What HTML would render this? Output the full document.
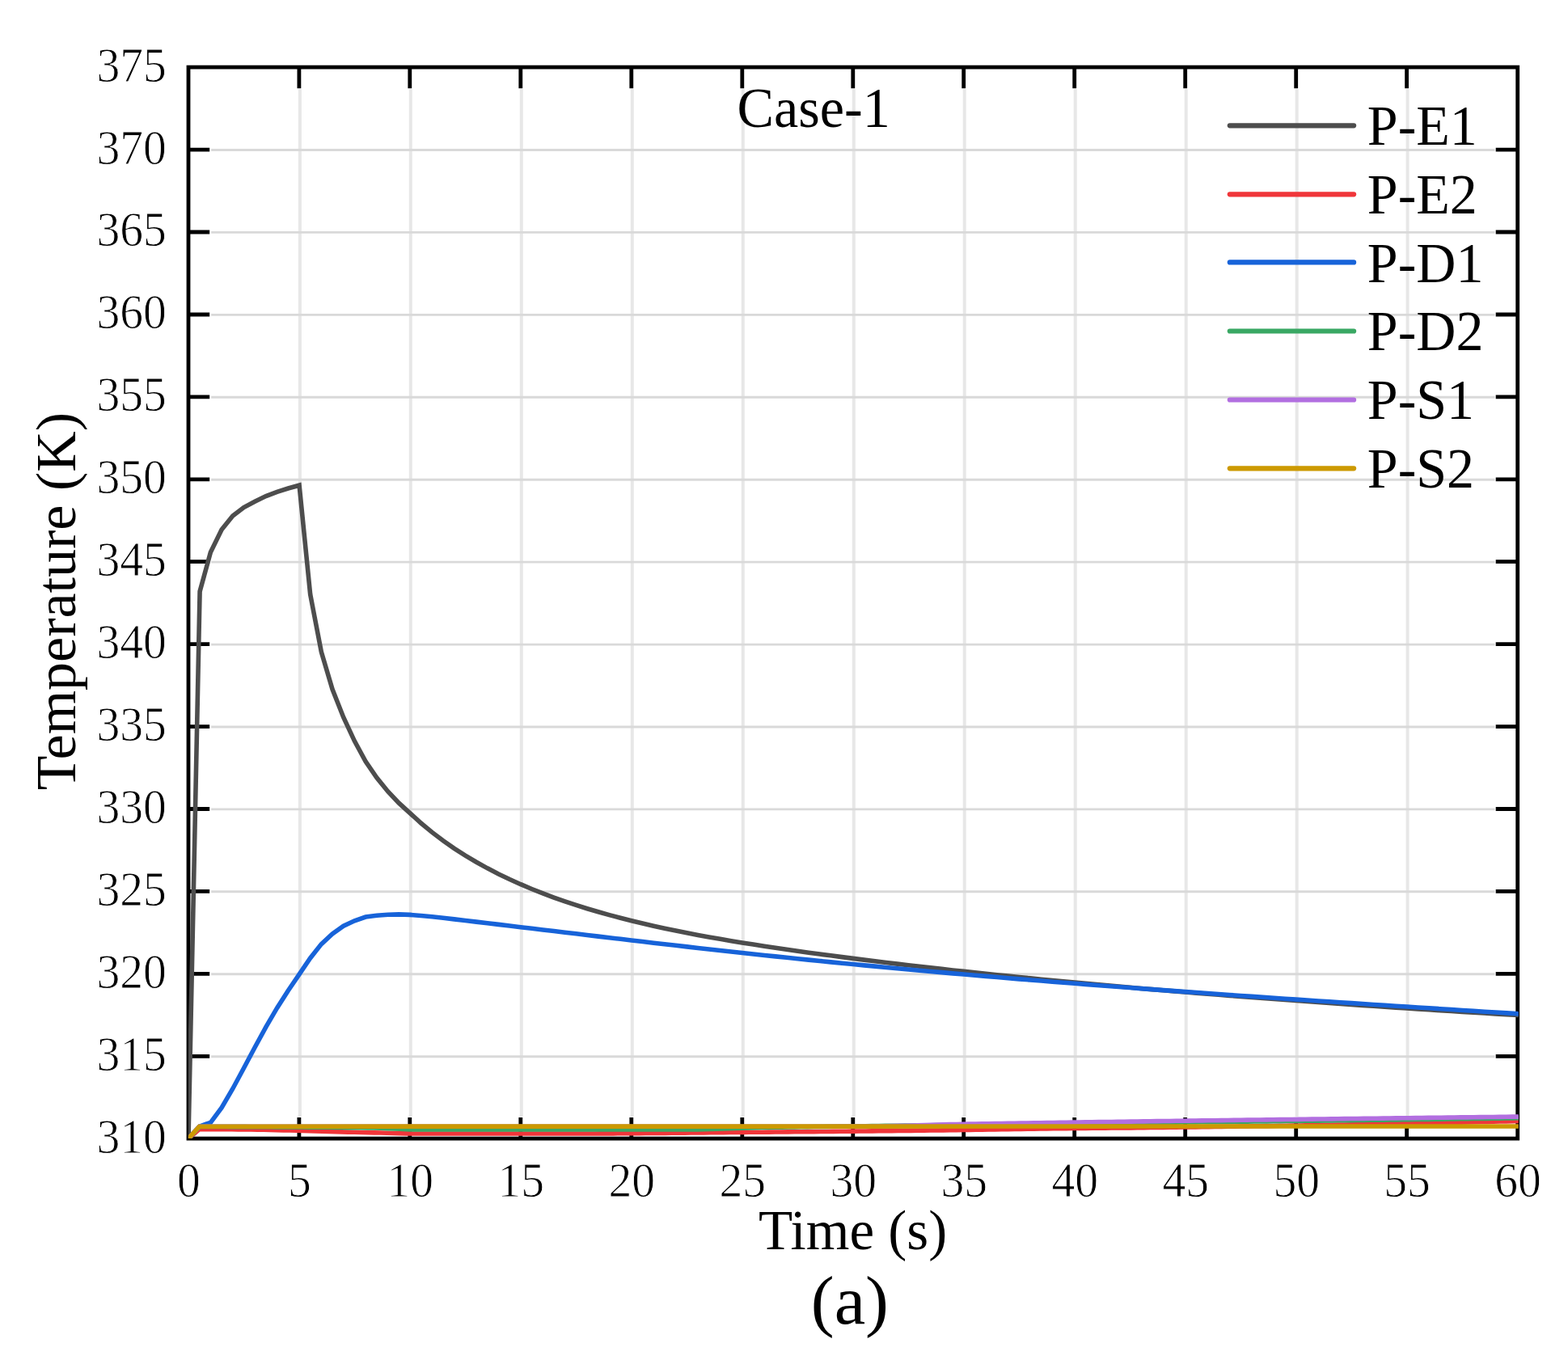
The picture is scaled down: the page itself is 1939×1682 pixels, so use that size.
<!DOCTYPE html>
<html lang="en">
<head>
<meta charset="utf-8">
<title>Temperature vs Time - Case-1</title>
<style>
html,body{margin:0;padding:0;background:#fff;}
body{width:1939px;height:1682px;overflow:hidden;font-family:"Liberation Serif", serif;}
svg{display:block;}
</style>
</head>
<body>
<svg width="1939" height="1682" viewBox="0 0 1939 1682">
<rect width="1939" height="1682" fill="#ffffff"/>
<defs><clipPath id="plotclip"><rect x="232.9" y="80.7" width="1644.9" height="1327.4"/></clipPath></defs>
<g fill="none">
<path d="M370.9,110.3 V1380.9" stroke="#e7e7e7" stroke-width="4.0"/>
<path d="M507.8,110.3 V1380.9" stroke="#e7e7e7" stroke-width="4.0"/>
<path d="M644.8,110.3 V1380.9" stroke="#e7e7e7" stroke-width="4.0"/>
<path d="M781.8,110.3 V1380.9" stroke="#e7e7e7" stroke-width="4.0"/>
<path d="M918.8,110.3 V1380.9" stroke="#e7e7e7" stroke-width="4.0"/>
<path d="M1055.8,110.3 V1380.9" stroke="#e7e7e7" stroke-width="4.0"/>
<path d="M1192.7,110.3 V1380.9" stroke="#e7e7e7" stroke-width="4.0"/>
<path d="M1329.7,110.3 V1380.9" stroke="#e7e7e7" stroke-width="4.0"/>
<path d="M1466.7,110.3 V1380.9" stroke="#e7e7e7" stroke-width="4.0"/>
<path d="M1603.7,110.3 V1380.9" stroke="#e7e7e7" stroke-width="4.0"/>
<path d="M1740.6,110.3 V1380.9" stroke="#e7e7e7" stroke-width="4.0"/>
<path d="M261.2,1306.7 H1848.5" stroke="#d9d9d9" stroke-width="2.9"/>
<path d="M261.2,1204.8 H1848.5" stroke="#d9d9d9" stroke-width="2.9"/>
<path d="M261.2,1102.8 H1848.5" stroke="#d9d9d9" stroke-width="2.9"/>
<path d="M261.2,1000.9 H1848.5" stroke="#d9d9d9" stroke-width="2.9"/>
<path d="M261.2,899.0 H1848.5" stroke="#d9d9d9" stroke-width="2.9"/>
<path d="M261.2,797.1 H1848.5" stroke="#d9d9d9" stroke-width="2.9"/>
<path d="M261.2,695.1 H1848.5" stroke="#d9d9d9" stroke-width="2.9"/>
<path d="M261.2,593.2 H1848.5" stroke="#d9d9d9" stroke-width="2.9"/>
<path d="M261.2,491.3 H1848.5" stroke="#d9d9d9" stroke-width="2.9"/>
<path d="M261.2,389.4 H1848.5" stroke="#d9d9d9" stroke-width="2.9"/>
<path d="M261.2,287.4 H1848.5" stroke="#d9d9d9" stroke-width="2.9"/>
<path d="M261.2,185.5 H1848.5" stroke="#d9d9d9" stroke-width="2.9"/>
</g>
<g stroke="#000" stroke-width="4.8" fill="none" stroke-linecap="butt">
<rect x="233.0" y="83.1" width="1643.7" height="1325.0"/>
<path d="M369.9,83.1 V109.3 M369.9,1408.1 V1381.9"/>
<path d="M506.8,83.1 V109.3 M506.8,1408.1 V1381.9"/>
<path d="M643.8,83.1 V109.3 M643.8,1408.1 V1381.9"/>
<path d="M780.8,83.1 V109.3 M780.8,1408.1 V1381.9"/>
<path d="M917.8,83.1 V109.3 M917.8,1408.1 V1381.9"/>
<path d="M1054.8,83.1 V109.3 M1054.8,1408.1 V1381.9"/>
<path d="M1191.7,83.1 V109.3 M1191.7,1408.1 V1381.9"/>
<path d="M1328.7,83.1 V109.3 M1328.7,1408.1 V1381.9"/>
<path d="M1465.7,83.1 V109.3 M1465.7,1408.1 V1381.9"/>
<path d="M1602.7,83.1 V109.3 M1602.7,1408.1 V1381.9"/>
<path d="M1739.6,83.1 V109.3 M1739.6,1408.1 V1381.9"/>
<path d="M233.0,1306.3 H259.2 M1876.7,1306.3 H1849.7"/>
<path d="M233.0,1204.4 H259.2 M1876.7,1204.4 H1849.7"/>
<path d="M233.0,1102.4 H259.2 M1876.7,1102.4 H1849.7"/>
<path d="M233.0,1000.5 H259.2 M1876.7,1000.5 H1849.7"/>
<path d="M233.0,898.6 H259.2 M1876.7,898.6 H1849.7"/>
<path d="M233.0,796.7 H259.2 M1876.7,796.7 H1849.7"/>
<path d="M233.0,694.7 H259.2 M1876.7,694.7 H1849.7"/>
<path d="M233.0,592.8 H259.2 M1876.7,592.8 H1849.7"/>
<path d="M233.0,490.9 H259.2 M1876.7,490.9 H1849.7"/>
<path d="M233.0,389.0 H259.2 M1876.7,389.0 H1849.7"/>
<path d="M233.0,287.0 H259.2 M1876.7,287.0 H1849.7"/>
<path d="M233.0,185.1 H259.2 M1876.7,185.1 H1849.7"/>
</g>
<g fill="none" stroke-width="5.6" stroke-linejoin="miter" stroke-miterlimit="3" stroke-linecap="square" clip-path="url(#plotclip)">
<path d="M233.00,1408.10 L247.10,731.50 L260.40,683.00 L274.10,655.10 L287.80,638.00 L301.50,627.50 L315.20,620.30 L328.90,613.60 L342.60,608.30 L356.30,604.00 L370.10,600.20 L383.67,735.14 L397.37,806.36 L411.07,852.48 L424.76,887.23 L438.46,916.56 L452.16,941.73 L465.86,961.83 L479.56,978.75 L493.25,993.13 L506.95,1005.57 L520.65,1018.03 L534.35,1029.37 L548.04,1039.75 L561.74,1049.30 L575.44,1058.11 L589.13,1066.27 L602.83,1073.85 L616.53,1080.91 L630.23,1087.51 L643.92,1093.68 L657.62,1099.47 L671.32,1104.92 L685.02,1110.04 L698.72,1114.86 L712.41,1119.42 L726.11,1123.73 L739.81,1127.80 L753.50,1131.66 L767.20,1135.32 L780.90,1138.79 L794.60,1142.08 L808.30,1145.21 L821.99,1148.20 L835.69,1151.05 L849.39,1153.77 L863.08,1156.39 L876.78,1158.90 L890.48,1161.32 L904.18,1163.65 L917.88,1165.91 L931.57,1168.10 L945.27,1170.22 L958.97,1172.28 L972.67,1174.28 L986.36,1176.24 L1000.06,1178.15 L1013.76,1180.02 L1027.45,1181.84 L1041.15,1183.63 L1054.85,1185.39 L1068.55,1187.11 L1082.25,1188.81 L1095.94,1190.48 L1109.64,1192.11 L1123.34,1193.72 L1137.03,1195.31 L1150.73,1196.86 L1164.43,1198.40 L1178.13,1199.91 L1191.83,1201.39 L1205.52,1202.85 L1219.22,1204.29 L1232.92,1205.71 L1246.62,1207.11 L1260.31,1208.49 L1274.01,1209.84 L1287.71,1211.18 L1301.40,1212.50 L1315.10,1213.80 L1328.80,1215.08 L1342.50,1216.35 L1356.19,1217.60 L1369.89,1218.83 L1383.59,1220.04 L1397.29,1221.24 L1410.99,1222.43 L1424.68,1223.60 L1438.38,1224.75 L1452.08,1225.89 L1465.78,1227.01 L1479.47,1228.13 L1493.17,1229.22 L1506.87,1230.31 L1520.57,1231.38 L1534.26,1232.44 L1547.96,1233.49 L1561.66,1234.52 L1575.36,1235.55 L1589.05,1236.56 L1602.75,1237.56 L1616.45,1238.55 L1630.14,1239.53 L1643.84,1240.50 L1657.54,1241.45 L1671.24,1242.40 L1684.94,1243.34 L1698.63,1244.26 L1712.33,1245.18 L1726.03,1246.09 L1739.72,1246.99 L1753.42,1247.88 L1767.12,1248.76 L1780.82,1249.63 L1794.52,1250.49 L1808.21,1251.35 L1821.91,1252.19 L1835.61,1253.03 L1849.31,1253.86 L1863.00,1254.68 L1876.70,1255.49" stroke="#4d4d4d"/>
<path d="M233.00,1408.10 L246.50,1396.60 L254.50,1396.61 L262.50,1396.64 L270.50,1396.68 L278.50,1396.72 L286.50,1396.78 L294.50,1396.83 L302.50,1396.92 L310.50,1397.02 L318.50,1397.15 L326.50,1397.30 L334.50,1397.46 L342.50,1397.64 L350.50,1397.83 L358.50,1398.04 L366.50,1398.25 L374.50,1398.48 L382.50,1398.70 L390.50,1398.94 L398.50,1399.17 L406.50,1399.40 L414.50,1399.63 L422.50,1399.86 L430.50,1400.08 L438.50,1400.29 L446.50,1400.49 L454.50,1400.68 L462.50,1400.86 L470.50,1401.05 L478.50,1401.26 L486.50,1401.47 L494.50,1401.67 L502.50,1401.83 L510.50,1401.95 L518.50,1402.00 L526.50,1402.00 L534.50,1402.00 L542.50,1402.00 L550.50,1402.00 L558.50,1402.00 L566.50,1402.00 L574.50,1402.00 L582.50,1402.00 L590.50,1402.00 L598.50,1402.00 L606.50,1402.00 L614.50,1402.00 L622.50,1402.00 L630.50,1402.00 L638.50,1402.00 L646.50,1402.00 L654.50,1402.00 L662.50,1402.00 L670.50,1402.00 L678.50,1402.00 L686.50,1402.00 L694.50,1402.00 L702.50,1402.00 L710.50,1401.99 L718.50,1401.98 L726.50,1401.96 L734.50,1401.94 L742.50,1401.90 L750.50,1401.87 L758.50,1401.83 L766.50,1401.78 L774.50,1401.73 L782.50,1401.67 L790.50,1401.61 L798.50,1401.55 L806.50,1401.48 L814.50,1401.41 L822.50,1401.34 L830.50,1401.26 L838.50,1401.19 L846.50,1401.11 L854.50,1401.03 L862.50,1400.95 L870.50,1400.87 L878.50,1400.79 L886.50,1400.71 L894.50,1400.63 L902.50,1400.55 L910.50,1400.47 L918.50,1400.40 L926.50,1400.32 L934.50,1400.25 L942.50,1400.18 L950.50,1400.11 L958.50,1400.04 L966.50,1399.97 L974.50,1399.89 L982.50,1399.82 L990.50,1399.75 L998.50,1399.67 L1006.50,1399.60 L1014.50,1399.52 L1022.50,1399.45 L1030.50,1399.37 L1038.50,1399.29 L1046.50,1399.21 L1054.50,1399.13 L1062.50,1399.05 L1070.50,1398.97 L1078.50,1398.88 L1086.50,1398.80 L1094.50,1398.71 L1102.50,1398.62 L1110.50,1398.53 L1118.50,1398.44 L1126.50,1398.35 L1134.50,1398.26 L1142.50,1398.16 L1150.50,1398.07 L1158.50,1397.97 L1166.50,1397.87 L1174.50,1397.77 L1182.50,1397.67 L1190.50,1397.56 L1198.50,1397.44 L1206.50,1397.31 L1214.50,1397.18 L1222.50,1397.05 L1230.50,1396.91 L1238.50,1396.77 L1246.50,1396.63 L1254.50,1396.49 L1262.50,1396.35 L1270.50,1396.22 L1278.50,1396.10 L1286.50,1395.98 L1294.50,1395.87 L1302.50,1395.77 L1310.50,1395.68 L1318.50,1395.59 L1326.50,1395.51 L1334.50,1395.43 L1342.50,1395.36 L1350.50,1395.28 L1358.50,1395.21 L1366.50,1395.14 L1374.50,1395.07 L1382.50,1394.99 L1390.50,1394.92 L1398.50,1394.84 L1406.50,1394.75 L1414.50,1394.67 L1422.50,1394.57 L1430.50,1394.47 L1438.50,1394.37 L1446.50,1394.27 L1454.50,1394.17 L1462.50,1394.06 L1470.50,1393.96 L1478.50,1393.85 L1486.50,1393.74 L1494.50,1393.63 L1502.50,1393.52 L1510.50,1393.41 L1518.50,1393.29 L1526.50,1393.18 L1534.50,1393.06 L1542.50,1392.94 L1550.50,1392.82 L1558.50,1392.70 L1566.50,1392.58 L1574.50,1392.45 L1582.50,1392.32 L1590.50,1392.20 L1598.50,1392.07 L1606.50,1391.93 L1614.50,1391.80 L1622.50,1391.67 L1630.50,1391.53 L1638.50,1391.39 L1646.50,1391.25 L1654.50,1391.11 L1662.50,1390.97 L1670.50,1390.82 L1678.50,1390.68 L1686.50,1390.53 L1694.50,1390.38 L1702.50,1390.23 L1710.50,1390.08 L1718.50,1389.92 L1726.50,1389.76 L1734.50,1389.61 L1742.50,1389.45 L1750.50,1389.28 L1758.50,1389.12 L1766.50,1388.96 L1774.50,1388.79 L1782.50,1388.62 L1790.50,1388.45 L1798.50,1388.28 L1806.50,1388.10 L1814.50,1387.93 L1822.50,1387.75 L1830.50,1387.57 L1838.50,1387.39 L1846.50,1387.21 L1854.50,1387.02 L1862.50,1386.84 L1870.50,1386.65 L1876.70,1386.50" stroke="#f0363a"/>
<path d="M233.00,1408.10 L246.70,1393.10 L260.39,1388.30 L274.09,1369.90 L287.79,1346.50 L301.49,1321.00 L315.19,1295.20 L328.88,1270.20 L342.58,1246.70 L356.28,1225.20 L369.98,1205.20 L383.67,1185.00 L397.37,1167.60 L411.07,1154.90 L424.76,1145.30 L438.46,1138.80 L452.16,1134.10 L465.86,1132.20 L479.56,1131.20 L493.25,1130.90 L506.95,1131.40 L520.65,1132.49 L534.35,1133.80 L548.04,1135.29 L561.74,1136.88 L575.44,1138.50 L589.13,1140.13 L602.83,1141.76 L616.53,1143.39 L630.23,1145.03 L643.92,1146.66 L657.62,1148.30 L671.32,1149.93 L685.02,1151.57 L698.72,1153.21 L712.41,1154.84 L726.11,1156.47 L739.81,1158.10 L753.50,1159.72 L767.20,1161.34 L780.90,1162.95 L794.60,1164.56 L808.30,1166.16 L821.99,1167.74 L835.69,1169.32 L849.39,1170.89 L863.08,1172.44 L876.78,1173.98 L890.48,1175.50 L904.18,1177.01 L917.88,1178.51 L931.57,1179.99 L945.27,1181.44 L958.97,1182.89 L972.67,1184.31 L986.36,1185.72 L1000.06,1187.12 L1013.76,1188.49 L1027.45,1189.86 L1041.15,1191.20 L1054.85,1192.53 L1068.55,1193.85 L1082.25,1195.15 L1095.94,1196.44 L1109.64,1197.71 L1123.34,1198.97 L1137.03,1200.21 L1150.73,1201.44 L1164.43,1202.66 L1178.13,1203.87 L1191.83,1205.06 L1205.52,1206.24 L1219.22,1207.41 L1232.92,1208.56 L1246.62,1209.71 L1260.31,1210.84 L1274.01,1211.96 L1287.71,1213.07 L1301.40,1214.17 L1315.10,1215.26 L1328.80,1216.33 L1342.50,1217.40 L1356.19,1218.46 L1369.89,1219.51 L1383.59,1220.55 L1397.29,1221.58 L1410.99,1222.60 L1424.68,1223.61 L1438.38,1224.62 L1452.08,1225.61 L1465.78,1226.60 L1479.47,1227.58 L1493.17,1228.55 L1506.87,1229.52 L1520.57,1230.48 L1534.26,1231.43 L1547.96,1232.37 L1561.66,1233.31 L1575.36,1234.25 L1589.05,1235.18 L1602.75,1236.10 L1616.45,1237.02 L1630.14,1237.93 L1643.84,1238.83 L1657.54,1239.74 L1671.24,1240.64 L1684.94,1241.53 L1698.63,1242.42 L1712.33,1243.31 L1726.03,1244.19 L1739.72,1245.07 L1753.42,1245.95 L1767.12,1246.83 L1780.82,1247.70 L1794.52,1248.57 L1808.21,1249.44 L1821.91,1250.31 L1835.61,1251.18 L1849.31,1252.04 L1863.00,1252.91 L1876.70,1253.77" stroke="#1763d9"/>
<path d="M233.00,1408.10 L246.50,1393.50 L254.50,1393.51 L262.50,1393.52 L270.50,1393.54 L278.50,1393.56 L286.50,1393.58 L294.50,1393.61 L302.50,1393.64 L310.50,1393.68 L318.50,1393.71 L326.50,1393.75 L334.50,1393.79 L342.50,1393.83 L350.50,1393.87 L358.50,1393.92 L366.50,1393.97 L374.50,1394.03 L382.50,1394.09 L390.50,1394.15 L398.50,1394.23 L406.50,1394.30 L414.50,1394.39 L422.50,1394.48 L430.50,1394.58 L438.50,1394.68 L446.50,1394.79 L454.50,1394.91 L462.50,1395.05 L470.50,1395.28 L478.50,1395.60 L486.50,1395.96 L494.50,1396.32 L502.50,1396.65 L510.50,1396.89 L518.50,1397.00 L526.50,1397.00 L534.50,1397.00 L542.50,1397.00 L550.50,1397.00 L558.50,1397.00 L566.50,1397.00 L574.50,1397.00 L582.50,1397.00 L590.50,1397.00 L598.50,1397.00 L606.50,1397.00 L614.50,1397.00 L622.50,1397.00 L630.50,1397.00 L638.50,1397.00 L646.50,1397.00 L654.50,1397.00 L662.50,1397.00 L670.50,1397.00 L678.50,1397.00 L686.50,1397.00 L694.50,1397.00 L702.50,1397.00 L710.50,1397.00 L718.50,1397.00 L726.50,1397.00 L734.50,1397.00 L742.50,1397.00 L750.50,1397.00 L758.50,1397.00 L766.50,1397.00 L774.50,1397.00 L782.50,1397.00 L790.50,1397.00 L798.50,1397.00 L806.50,1397.00 L814.50,1397.00 L822.50,1397.00 L830.50,1397.00 L838.50,1397.00 L846.50,1397.00 L854.50,1396.99 L862.50,1396.90 L870.50,1396.75 L878.50,1396.55 L886.50,1396.30 L894.50,1396.03 L902.50,1395.75 L910.50,1395.46 L918.50,1395.18 L926.50,1394.93 L934.50,1394.72 L942.50,1394.55 L950.50,1394.41 L958.50,1394.27 L966.50,1394.14 L974.50,1394.02 L982.50,1393.90 L990.50,1393.79 L998.50,1393.68 L1006.50,1393.57 L1014.50,1393.46 L1022.50,1393.36 L1030.50,1393.26 L1038.50,1393.15 L1046.50,1393.05 L1054.50,1392.94 L1062.50,1392.83 L1070.50,1392.73 L1078.50,1392.62 L1086.50,1392.52 L1094.50,1392.41 L1102.50,1392.31 L1110.50,1392.20 L1118.50,1392.10 L1126.50,1392.00 L1134.50,1391.90 L1142.50,1391.80 L1150.50,1391.70 L1158.50,1391.60 L1166.50,1391.50 L1174.50,1391.40 L1182.50,1391.30 L1190.50,1391.21 L1198.50,1391.11 L1206.50,1391.01 L1214.50,1390.92 L1222.50,1390.82 L1230.50,1390.72 L1238.50,1390.63 L1246.50,1390.53 L1254.50,1390.44 L1262.50,1390.35 L1270.50,1390.25 L1278.50,1390.16 L1286.50,1390.06 L1294.50,1389.97 L1302.50,1389.88 L1310.50,1389.79 L1318.50,1389.69 L1326.50,1389.60 L1334.50,1389.51 L1342.50,1389.42 L1350.50,1389.33 L1358.50,1389.23 L1366.50,1389.14 L1374.50,1389.05 L1382.50,1388.96 L1390.50,1388.87 L1398.50,1388.78 L1406.50,1388.69 L1414.50,1388.60 L1422.50,1388.50 L1430.50,1388.41 L1438.50,1388.32 L1446.50,1388.23 L1454.50,1388.14 L1462.50,1388.05 L1470.50,1387.96 L1478.50,1387.87 L1486.50,1387.77 L1494.50,1387.68 L1502.50,1387.59 L1510.50,1387.50 L1518.50,1387.40 L1526.50,1387.31 L1534.50,1387.22 L1542.50,1387.13 L1550.50,1387.03 L1558.50,1386.94 L1566.50,1386.84 L1574.50,1386.75 L1582.50,1386.66 L1590.50,1386.56 L1598.50,1386.47 L1606.50,1386.37 L1614.50,1386.27 L1622.50,1386.18 L1630.50,1386.08 L1638.50,1385.98 L1646.50,1385.88 L1654.50,1385.79 L1662.50,1385.69 L1670.50,1385.59 L1678.50,1385.49 L1686.50,1385.39 L1694.50,1385.29 L1702.50,1385.18 L1710.50,1385.08 L1718.50,1384.98 L1726.50,1384.88 L1734.50,1384.77 L1742.50,1384.67 L1750.50,1384.56 L1758.50,1384.45 L1766.50,1384.35 L1774.50,1384.24 L1782.50,1384.13 L1790.50,1384.02 L1798.50,1383.91 L1806.50,1383.79 L1814.50,1383.68 L1822.50,1383.57 L1830.50,1383.46 L1838.50,1383.34 L1846.50,1383.23 L1854.50,1383.12 L1862.50,1383.00 L1870.50,1382.89 L1876.70,1382.80" stroke="#3aa864"/>
<path d="M233.00,1408.10 L246.50,1393.20 L254.50,1393.20 L262.50,1393.20 L270.50,1393.20 L278.50,1393.20 L286.50,1393.20 L294.50,1393.20 L302.50,1393.20 L310.50,1393.20 L318.50,1393.20 L326.50,1393.20 L334.50,1393.20 L342.50,1393.20 L350.50,1393.20 L358.50,1393.20 L366.50,1393.20 L374.50,1393.20 L382.50,1393.20 L390.50,1393.20 L398.50,1393.20 L406.50,1393.20 L414.50,1393.20 L422.50,1393.20 L430.50,1393.20 L438.50,1393.20 L446.50,1393.20 L454.50,1393.20 L462.50,1393.20 L470.50,1393.20 L478.50,1393.20 L486.50,1393.20 L494.50,1393.20 L502.50,1393.20 L510.50,1393.20 L518.50,1393.20 L526.50,1393.20 L534.50,1393.20 L542.50,1393.20 L550.50,1393.20 L558.50,1393.20 L566.50,1393.20 L574.50,1393.20 L582.50,1393.20 L590.50,1393.20 L598.50,1393.20 L606.50,1393.20 L614.50,1393.20 L622.50,1393.20 L630.50,1393.20 L638.50,1393.20 L646.50,1393.20 L654.50,1393.20 L662.50,1393.20 L670.50,1393.20 L678.50,1393.20 L686.50,1393.20 L694.50,1393.20 L702.50,1393.20 L710.50,1393.20 L718.50,1393.20 L726.50,1393.20 L734.50,1393.20 L742.50,1393.20 L750.50,1393.20 L758.50,1393.20 L766.50,1393.20 L774.50,1393.20 L782.50,1393.20 L790.50,1393.20 L798.50,1393.20 L806.50,1393.20 L814.50,1393.20 L822.50,1393.20 L830.50,1393.20 L838.50,1393.20 L846.50,1393.20 L854.50,1393.20 L862.50,1393.20 L870.50,1393.20 L878.50,1393.20 L886.50,1393.20 L894.50,1393.20 L902.50,1393.20 L910.50,1393.20 L918.50,1393.20 L926.50,1393.20 L934.50,1393.20 L942.50,1393.20 L950.50,1393.20 L958.50,1393.20 L966.50,1393.20 L974.50,1393.20 L982.50,1393.20 L990.50,1393.20 L998.50,1393.20 L1006.50,1393.20 L1014.50,1393.19 L1022.50,1393.18 L1030.50,1393.16 L1038.50,1393.14 L1046.50,1393.12 L1054.50,1393.09 L1062.50,1393.05 L1070.50,1393.02 L1078.50,1392.98 L1086.50,1392.90 L1094.50,1392.77 L1102.50,1392.61 L1110.50,1392.42 L1118.50,1392.20 L1126.50,1391.97 L1134.50,1391.73 L1142.50,1391.49 L1150.50,1391.25 L1158.50,1391.02 L1166.50,1390.80 L1174.50,1390.61 L1182.50,1390.45 L1190.50,1390.30 L1198.50,1390.15 L1206.50,1390.01 L1214.50,1389.87 L1222.50,1389.73 L1230.50,1389.59 L1238.50,1389.46 L1246.50,1389.32 L1254.50,1389.19 L1262.50,1389.07 L1270.50,1388.94 L1278.50,1388.82 L1286.50,1388.70 L1294.50,1388.58 L1302.50,1388.46 L1310.50,1388.34 L1318.50,1388.22 L1326.50,1388.11 L1334.50,1387.99 L1342.50,1387.88 L1350.50,1387.77 L1358.50,1387.66 L1366.50,1387.55 L1374.50,1387.43 L1382.50,1387.32 L1390.50,1387.21 L1398.50,1387.10 L1406.50,1386.99 L1414.50,1386.88 L1422.50,1386.76 L1430.50,1386.65 L1438.50,1386.54 L1446.50,1386.43 L1454.50,1386.32 L1462.50,1386.22 L1470.50,1386.11 L1478.50,1386.00 L1486.50,1385.89 L1494.50,1385.79 L1502.50,1385.68 L1510.50,1385.58 L1518.50,1385.48 L1526.50,1385.37 L1534.50,1385.27 L1542.50,1385.17 L1550.50,1385.07 L1558.50,1384.97 L1566.50,1384.87 L1574.50,1384.76 L1582.50,1384.66 L1590.50,1384.56 L1598.50,1384.46 L1606.50,1384.36 L1614.50,1384.27 L1622.50,1384.17 L1630.50,1384.07 L1638.50,1383.97 L1646.50,1383.87 L1654.50,1383.77 L1662.50,1383.67 L1670.50,1383.57 L1678.50,1383.47 L1686.50,1383.37 L1694.50,1383.27 L1702.50,1383.18 L1710.50,1383.08 L1718.50,1382.98 L1726.50,1382.88 L1734.50,1382.78 L1742.50,1382.69 L1750.50,1382.59 L1758.50,1382.49 L1766.50,1382.40 L1774.50,1382.30 L1782.50,1382.21 L1790.50,1382.11 L1798.50,1382.02 L1806.50,1381.92 L1814.50,1381.83 L1822.50,1381.73 L1830.50,1381.64 L1838.50,1381.54 L1846.50,1381.45 L1854.50,1381.36 L1862.50,1381.26 L1870.50,1381.17 L1876.70,1381.10" stroke="#b26fe0"/>
<path d="M233.00,1408.10 L246.50,1393.20 L1876.70,1393.00" stroke="#cc9900"/>
</g>
<g stroke-width="6.2" stroke-linecap="round" fill="none">
<path d="M1520.8,155.3 H1674.1" stroke="#4d4d4d"/>
<path d="M1520.8,240.3 H1674.1" stroke="#f0363a"/>
<path d="M1520.8,324.4 H1674.1" stroke="#1763d9"/>
<path d="M1520.8,409.5 H1674.1" stroke="#3aa864"/>
<path d="M1520.8,494.5 H1674.1" stroke="#b26fe0"/>
<path d="M1520.8,579.3 H1674.1" stroke="#cc9900"/>
</g>
<g font-family='"Liberation Serif", serif' fill="#000">
<text transform="translate(1690.8,179.0) scale(0.972,1)" font-size="70" text-anchor="start">P-E1</text>
<text transform="translate(1690.8,263.6) scale(0.972,1)" font-size="70" text-anchor="start">P-E2</text>
<text transform="translate(1690.8,348.6) scale(0.972,1)" font-size="70" text-anchor="start">P-D1</text>
<text transform="translate(1690.8,433.2) scale(0.972,1)" font-size="70" text-anchor="start">P-D2</text>
<text transform="translate(1690.8,518.4) scale(0.972,1)" font-size="70" text-anchor="start">P-S1</text>
<text transform="translate(1690.8,603.0) scale(0.972,1)" font-size="70" text-anchor="start">P-S2</text>
<text transform="translate(1006.2,157.2) scale(0.968,1)" font-size="70.5" text-anchor="middle">Case-1</text>
<g stroke="#ffffff" stroke-width="0.9" stroke-linejoin="round">
<text transform="translate(233.4,1479.6) scale(0.952,1)" font-size="60.5" text-anchor="middle">0</text>
<text transform="translate(370.4,1479.6) scale(0.952,1)" font-size="60.5" text-anchor="middle">5</text>
<text transform="translate(507.3,1479.6) scale(0.952,1)" font-size="60.5" text-anchor="middle">10</text>
<text transform="translate(644.3,1479.6) scale(0.952,1)" font-size="60.5" text-anchor="middle">15</text>
<text transform="translate(781.3,1479.6) scale(0.952,1)" font-size="60.5" text-anchor="middle">20</text>
<text transform="translate(918.3,1479.6) scale(0.952,1)" font-size="60.5" text-anchor="middle">25</text>
<text transform="translate(1055.2,1479.6) scale(0.952,1)" font-size="60.5" text-anchor="middle">30</text>
<text transform="translate(1192.2,1479.6) scale(0.952,1)" font-size="60.5" text-anchor="middle">35</text>
<text transform="translate(1329.2,1479.6) scale(0.952,1)" font-size="60.5" text-anchor="middle">40</text>
<text transform="translate(1466.2,1479.6) scale(0.952,1)" font-size="60.5" text-anchor="middle">45</text>
<text transform="translate(1603.2,1479.6) scale(0.952,1)" font-size="60.5" text-anchor="middle">50</text>
<text transform="translate(1740.1,1479.6) scale(0.952,1)" font-size="60.5" text-anchor="middle">55</text>
<text transform="translate(1877.1,1479.6) scale(0.952,1)" font-size="60.5" text-anchor="middle">60</text>
<text transform="translate(205.8,1425.6) scale(0.952,1)" font-size="60.5" text-anchor="end">310</text>
<text transform="translate(205.8,1323.7) scale(0.952,1)" font-size="60.5" text-anchor="end">315</text>
<text transform="translate(205.8,1221.8) scale(0.952,1)" font-size="60.5" text-anchor="end">320</text>
<text transform="translate(205.8,1119.8) scale(0.952,1)" font-size="60.5" text-anchor="end">325</text>
<text transform="translate(205.8,1017.9) scale(0.952,1)" font-size="60.5" text-anchor="end">330</text>
<text transform="translate(205.8,916.0) scale(0.952,1)" font-size="60.5" text-anchor="end">335</text>
<text transform="translate(205.8,814.1) scale(0.952,1)" font-size="60.5" text-anchor="end">340</text>
<text transform="translate(205.8,712.1) scale(0.952,1)" font-size="60.5" text-anchor="end">345</text>
<text transform="translate(205.8,610.2) scale(0.952,1)" font-size="60.5" text-anchor="end">350</text>
<text transform="translate(205.8,508.3) scale(0.952,1)" font-size="60.5" text-anchor="end">355</text>
<text transform="translate(205.8,406.4) scale(0.952,1)" font-size="60.5" text-anchor="end">360</text>
<text transform="translate(205.8,304.4) scale(0.952,1)" font-size="60.5" text-anchor="end">365</text>
<text transform="translate(205.8,202.5) scale(0.952,1)" font-size="60.5" text-anchor="end">370</text>
<text transform="translate(205.8,100.6) scale(0.952,1)" font-size="60.5" text-anchor="end">375</text>
</g>
<text x="1054.5" y="1545.3" font-size="69" text-anchor="middle">Time (s)</text>
<text transform="translate(1050.9,1636.8) scale(1.025,1)" font-size="84.5" text-anchor="middle">(a)</text>
<text transform="translate(92.5,743.6) rotate(-90)" font-size="70" text-anchor="middle">Temperature (K)</text>
</g>
</svg>
</body>
</html>
